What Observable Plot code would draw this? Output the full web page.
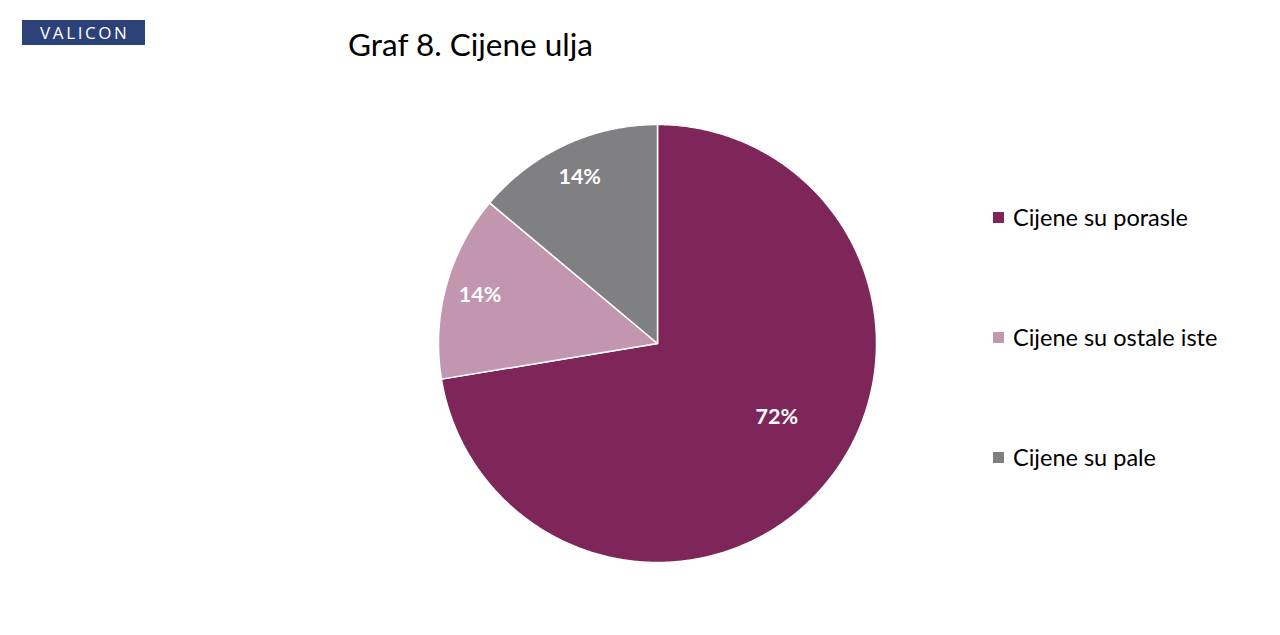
<!DOCTYPE html>
<html>
<head>
<meta charset="utf-8">
<script src="https://cdn.jsdelivr.net/npm/d3@7"></script>
<script src="https://cdn.jsdelivr.net/npm/@observablehq/plot@0.6"></script>
<style>
  html, body { margin: 0; padding: 0; background: #fff; }
  #wrap { position: relative; width: 1280px; height: 635px; overflow: hidden; font-family: Lato, "Open Sans", sans-serif; }
  #chart { position: absolute; left: 0; top: 0; }
  #logo { position: absolute; left: 22px; top: 20px; width: 123px; height: 25px; background: #2b4177; color: #fff;
          font-family: "Open Sans", sans-serif; font-size: 17px; letter-spacing: 2.6px; text-indent: 2.6px; line-height: 25px; text-align: center; }
  #title { position: absolute; left: 348px; top: 25px; font-size: 31.5px; color: #000; white-space: nowrap; }
  #legend { position: absolute; left: 993px; top: 0; }
  .item { position: absolute; left: 0; white-space: nowrap; font-size: 23.5px; color: #000; display: flex; align-items: center; height: 30px; }
  .sw { width: 11px; height: 11px; margin-right: 9px; display: inline-block; }
</style>
</head>
<body>
<div id="wrap">
  <div id="logo">VALICON</div>
  <div id="title">Graf 8. Cijene ulja</div>
  <div id="chart"></div>
  <div id="legend"></div>
</div>
<script>
const categories = ["Cijene su porasle", "Cijene su ostale iste", "Cijene su pale"];
const values = [72.4, 13.7, 13.9];
const colors = ["#7e2659", "#c196ae", "#808083"];

// Build slice polygons (angle clockwise from top, y pointing up)
const total = d3.sum(values);
let start = 0;
const points = [];
const labels = [];
categories.forEach((cat, i) => {
  const a0 = start / total * 2 * Math.PI;
  const a1 = (start + values[i]) / total * 2 * Math.PI;
  start += values[i];
  points.push({cat, x: 0, y: 0});
  const n = Math.max(2, Math.ceil((a1 - a0) / (Math.PI / 360)));
  for (let k = 0; k <= n; k++) {
    const a = a0 + (a1 - a0) * k / n;
    points.push({cat, x: Math.sin(a), y: Math.cos(a)});
  }
  const mid = (a0 + a1) / 2;
  const big = values[i] / total > 0.5;
  const r = big ? 0.64 : 0.84;
  const am = big ? mid - 0.15 : mid;
  labels.push({cat, x: r * Math.sin(am), y: r * Math.cos(am), text: Math.round(values[i]) + "%"});
});

const plot = Plot.plot({
  width: 1280,
  height: 635,
  margin: 0,
  x: {domain: [-1, 1], range: [438, 876], axis: null},
  y: {domain: [-1, 1], range: [562, 124], axis: null},
  color: {domain: categories, range: colors},
  style: {background: "transparent"},
  marks: [
    Plot.line(points, {x: "x", y: "y", z: "cat", fill: "cat", stroke: "#ffffff", strokeWidth: 1.5, curve: "linear-closed", strokeLinejoin: "round"}),
    Plot.text(labels, {x: "x", y: "y", text: "text", fill: "#ffffff", fontSize: 21.5, fontWeight: "bold", fontFamily: "Lato, 'Open Sans', sans-serif"})
  ]
});
document.getElementById("chart").appendChild(plot);

// Legend
const legend = document.getElementById("legend");
const legendY = [217, 337, 457];
categories.forEach((cat, i) => {
  const div = document.createElement("div");
  div.className = "item";
  div.style.top = (legendY[i] - 15) + "px";
  div.innerHTML = `<span class="sw" style="background:${colors[i]}"></span><span>${cat}</span>`;
  legend.appendChild(div);
});
</script>
</body>
</html>
